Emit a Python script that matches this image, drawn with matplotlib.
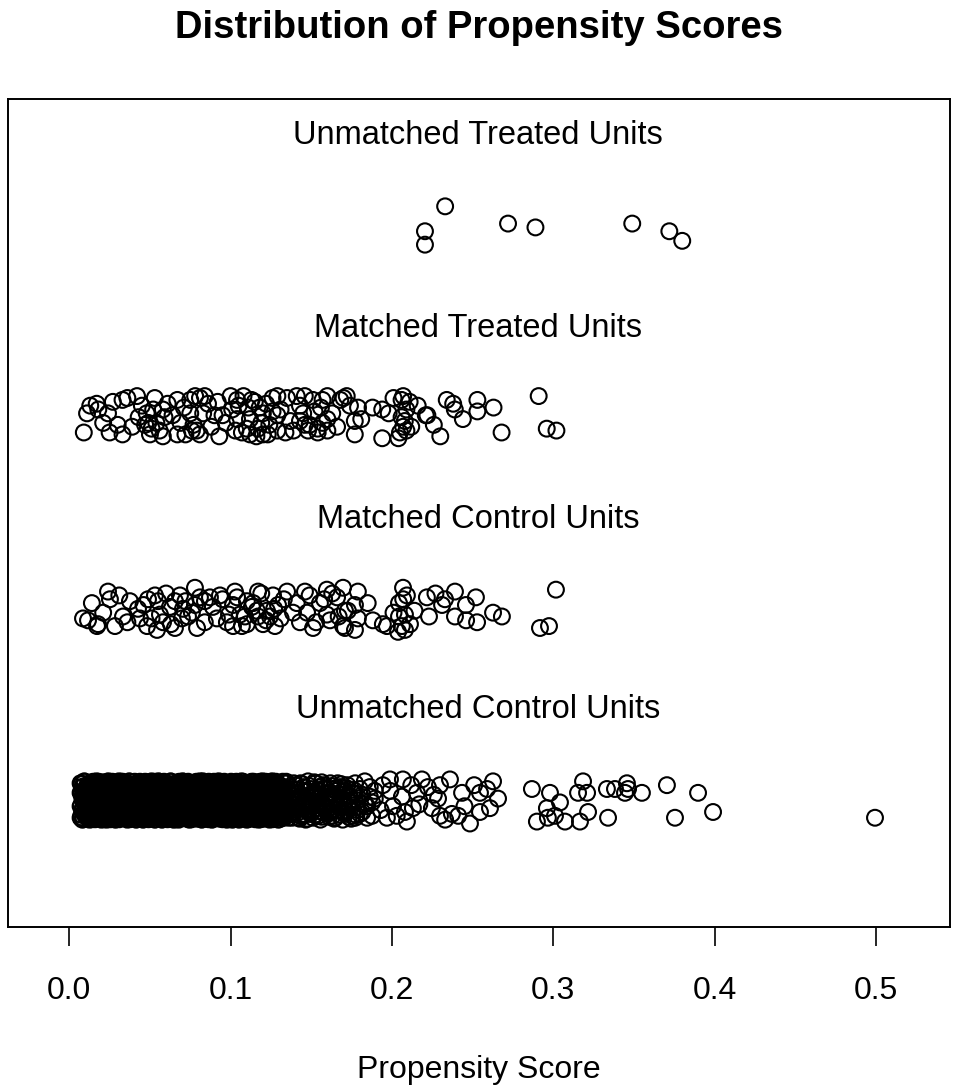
import matplotlib
matplotlib.use("Agg")
import matplotlib.pyplot as plt

plt.rcParams['font.family'] = ['Liberation Sans', 'DejaVu Sans']

# ---------------- data ----------------
title = "Distribution of Propensity Scores"
xlabel = "Propensity Score"
group_labels = ["Unmatched Treated Units", "Matched Treated Units",
                "Matched Control Units", "Unmatched Control Units"]
group_label_y = [4.47, 3.465, 2.465, 1.475]
xtick_vals = [0.0, 0.1, 0.2, 0.3, 0.4, 0.5]
xtick_labels = ["0.0", "0.1", "0.2", "0.3", "0.4", "0.5"]

# Unmatched treated units
ut_x = [0.233, 0.2205, 0.2205, 0.272, 0.289, 0.349, 0.372, 0.380]
ut_y = [4.10, 3.97, 3.90, 4.01, 3.99, 4.01, 3.97, 3.92]

# Matched treated units
mt_x = [0.009, 0.011, 0.017, 0.018, 0.024, 0.025, 0.030, 0.033, 0.033, 0.036,
        0.042, 0.043, 0.048, 0.047, 0.050, 0.052, 0.054, 0.058, 0.059, 0.058,
        0.064, 0.067, 0.067, 0.072, 0.075, 0.075, 0.076, 0.051, 0.049,
        0.078, 0.081, 0.084, 0.086, 0.079, 0.081, 0.077, 0.093, 0.090, 0.100,
        0.104, 0.108, 0.105, 0.111, 0.115, 0.118, 0.120, 0.112, 0.104, 0.103,
        0.110, 0.117, 0.120, 0.123, 0.126, 0.129, 0.126, 0.129, 0.124, 0.129,
        0.134, 0.137, 0.141, 0.143, 0.146, 0.143, 0.146, 0.149, 0.148, 0.152,
        0.154, 0.095, 0.116, 0.112,
        0.157, 0.160, 0.157, 0.160, 0.154, 0.160,
        0.291, 0.296, 0.302, 0.268, 0.263, 0.253, 0.253, 0.244, 0.239, 0.238,
        0.234, 0.230, 0.222, 0.221, 0.211, 0.207, 0.206, 0.209, 0.206, 0.207,
        0.205, 0.209, 0.204, 0.212, 0.194, 0.194, 0.188, 0.177, 0.177, 0.179,
        0.174, 0.172, 0.170,
        0.013, 0.021, 0.027, 0.039, 0.045, 0.053, 0.056, 0.061, 0.069, 0.071,
        0.083, 0.088, 0.092, 0.097, 0.101, 0.107, 0.113, 0.119, 0.122, 0.131,
        0.135, 0.139, 0.145, 0.151, 0.156, 0.163, 0.166, 0.168, 0.181, 0.198,
        0.201, 0.208, 0.216, 0.226]
mt_y = [2.92, 3.02, 3.07, 3.04, 3.02, 2.92, 2.96, 2.91, 3.09, 3.10,
        3.11, 3.00, 3.02, 2.96, 2.91, 3.04, 2.97, 3.04, 3.00, 2.90,
        3.01, 3.09, 2.91, 2.91, 3.09, 3.02, 2.93, 2.94, 2.97,
        3.11, 3.10, 3.11, 3.07, 2.93, 2.91, 2.96, 2.90, 3.01, 3.11,
        3.09, 3.11, 3.06, 3.05, 3.08, 3.05, 3.02, 2.99, 2.99, 2.93,
        2.94, 2.94, 2.91, 2.91, 3.10, 3.11, 3.03, 3.01, 2.96, 2.93,
        2.92, 2.98, 3.11, 3.06, 3.11, 2.98, 2.96, 2.96, 2.93, 3.03,
        2.94, 3.01, 2.90, 2.91,
        3.09, 3.11, 2.97, 2.93, 2.92, 2.99,
        3.11, 2.94, 2.93, 2.92, 3.05, 3.09, 3.03, 2.99, 3.04, 3.07,
        3.09, 2.90, 3.01, 3.01, 3.08, 3.11, 3.09, 3.04, 3.00, 2.95,
        2.92, 2.93, 2.89, 2.95, 2.89, 3.04, 3.05, 2.98, 2.91, 3.05,
        3.06, 3.11, 3.10,
        3.06, 2.97, 3.08, 2.95, 3.06, 3.10, 2.93, 3.07, 2.97, 3.05,
        3.02, 2.95, 3.08, 2.97, 3.04, 2.92, 3.09, 2.97, 3.07, 3.04,
        3.10, 2.93, 3.02, 3.09, 3.05, 3.02, 2.95, 3.09, 2.99, 3.02,
        3.10, 2.98, 3.06, 2.96]

# Matched control units
mc_x = [0.0085, 0.0116, 0.0178, 0.0172, 0.024, 0.0252, 0.0283, 0.0333, 0.0376, 0.0426,
        0.0438, 0.0482, 0.0488, 0.0531, 0.055, 0.0562, 0.0581, 0.0544, 0.0655, 0.0624,
        0.0655, 0.0686, 0.0705, 0.0736, 0.0779, 0.0779, 0.081, 0.0841, 0.0792, 0.0872,
        0.0934, 0.0915, 0.0977, 0.1027, 0.1015, 0.1058, 0.1089, 0.1101, 0.1132, 0.117,
        0.117, 0.1201, 0.1225, 0.1263, 0.1294, 0.1275, 0.135, 0.1387, 0.143, 0.1461,
        0.1511, 0.1474, 0.1554, 0.1597, 0.1597, 0.1616, 0.166, 0.1697, 0.1709, 0.1709,
        0.1101, 0.1163, 0.1244, 0.0698, 0.1015,
        0.3017, 0.2918, 0.2974, 0.2627, 0.2682, 0.2528, 0.2521, 0.2459, 0.2391, 0.2391,
        0.2329, 0.2311, 0.223, 0.2217, 0.2093, 0.2069, 0.2044, 0.2081, 0.2062, 0.2038,
        0.2112, 0.2081, 0.2044, 0.1944, 0.1882, 0.1969, 0.1789, 0.1789, 0.1771, 0.1727,
        0.1771, 0.1697,
        0.014, 0.021, 0.031, 0.036, 0.046, 0.051, 0.060, 0.063, 0.072, 0.076,
        0.084, 0.089, 0.095, 0.099, 0.104, 0.107, 0.114, 0.119, 0.122, 0.127,
        0.131, 0.133, 0.141, 0.149, 0.153, 0.158, 0.163, 0.167, 0.185, 0.201,
        0.207, 0.214, 0.227, 0.246]
mc_y = [1.95, 1.94, 1.92, 1.91, 2.09, 2.05, 1.91, 1.96, 2.04, 2.00,
        1.95, 1.91, 2.05, 2.07, 2.04, 1.97, 1.93, 1.89, 1.90, 2.01,
        2.04, 2.07, 2.00, 1.96, 2.11, 2.02, 2.06, 2.04, 1.90, 2.06,
        2.07, 1.95, 1.93, 2.09, 2.02, 1.97, 1.96, 1.92, 2.01, 2.09,
        1.96, 1.92, 1.99, 2.07, 2.02, 1.91, 2.09, 1.98, 1.93, 2.09,
        1.90, 1.98, 2.03, 2.10, 1.97, 1.94, 2.06, 2.11, 1.99, 1.90,
        2.04, 1.99, 1.96, 1.95, 1.91,
        2.10, 1.90, 1.91, 1.98, 1.96, 1.93, 2.06, 2.02, 1.96, 2.09,
        2.05, 2.02, 1.96, 2.06, 2.07, 2.11, 2.03, 1.97, 1.91, 1.88,
        1.92, 1.89, 1.96, 1.92, 1.94, 1.91, 2.09, 1.95, 2.02, 1.99,
        1.89, 1.91,
        2.03, 1.98, 2.07, 1.93, 2.02, 1.95, 2.08, 1.92, 2.04, 1.98,
        1.93, 2.01, 2.05, 1.97, 2.06, 1.91, 2.03, 2.08, 1.94, 2.00,
        1.95, 2.05, 2.03, 2.07, 1.93, 2.05, 2.08, 1.96, 2.03, 1.98,
        2.05, 1.99, 2.08, 1.94]

# Unmatched control units: dense low-score mass (columns of jittered points)
uc_cols_x = [0.0070, 0.0081, 0.0093, 0.0102, 0.0114, 0.0125, 0.0133, 0.0146, 0.0157, 0.0168,
             0.0176, 0.0189, 0.0198, 0.0211, 0.0220, 0.0232, 0.0243, 0.0251, 0.0264, 0.0275,
             0.0286, 0.0294, 0.0307, 0.0318, 0.0326, 0.0339, 0.0350, 0.0359, 0.0371, 0.0382,
             0.0390, 0.0403, 0.0414, 0.0425, 0.0433, 0.0446, 0.0457, 0.0465, 0.0478, 0.0489,
             0.0497, 0.0510, 0.0521, 0.0530, 0.0542, 0.0553, 0.0561, 0.0574, 0.0585, 0.0596,
             0.0604, 0.0617, 0.0628, 0.0636, 0.0649, 0.0660, 0.0671, 0.0679, 0.0692, 0.0703,
             0.0711, 0.0724, 0.0735, 0.0746, 0.0754, 0.0767, 0.0778, 0.0786, 0.0799, 0.0810,
             0.0821, 0.0829, 0.0842, 0.0853, 0.0861, 0.0874, 0.0885, 0.0896, 0.0904, 0.0917,
             0.0928, 0.0936, 0.0949, 0.0960, 0.0971, 0.0979, 0.0992, 0.1003, 0.1011, 0.1024,
             0.1035, 0.1046, 0.1054, 0.1067, 0.1078, 0.1086, 0.1099, 0.1110, 0.1121, 0.1132,
             0.1143, 0.1155, 0.1166, 0.1174, 0.1187, 0.1198, 0.1209, 0.1217, 0.1230, 0.1241,
             0.1252, 0.1260, 0.1273, 0.1284, 0.1295, 0.1303, 0.1316, 0.1327, 0.1338, 0.1346,
             0.1359, 0.1370, 0.1381, 0.1392,
             0.1405, 0.1421, 0.1434, 0.1452, 0.1466, 0.1480, 0.1497, 0.1511, 0.1528, 0.1542,
             0.1557, 0.1573, 0.1588, 0.1602, 0.1619, 0.1633, 0.1650, 0.1664, 0.1679, 0.1695,
             0.1710, 0.1724, 0.1741, 0.1755, 0.1772, 0.1786, 0.1801, 0.1817, 0.1832, 0.1846,
             0.1863, 0.1877, 0.1894]
uc_cols_y = [
    (0.91, 1.04, 0.97, 1.09), (0.95, 1.07, 0.90, 1.01), (0.99, 0.93, 1.10, 1.03), (1.06, 0.92, 0.98, 1.02),
    (0.94, 1.08, 1.00, 0.96), (1.05, 0.90, 0.99, 1.09), (0.92, 1.02, 1.07, 0.97), (1.00, 0.95, 1.04, 0.91),
    (1.08, 0.98, 0.93, 1.03), (0.96, 1.10, 1.01, 0.94), (1.03, 0.91, 0.97, 1.07), (0.93, 1.05, 1.09, 0.99),
    (1.01, 0.94, 0.90, 1.06), (0.98, 1.09, 1.02, 0.92), (1.07, 0.96, 0.93, 1.00), (0.90, 1.03, 1.08, 0.95),
    (1.04, 0.99, 0.92, 1.10), (0.97, 1.06, 1.01, 0.91), (1.09, 0.93, 0.96, 1.02), (0.92, 1.00, 1.05, 0.98),
    (1.02, 0.90, 1.08, 0.95), (0.96, 1.04, 0.99, 1.07), (1.10, 0.94, 1.01, 0.91), (0.93, 0.98, 1.06, 1.03),
    (1.05, 1.09, 0.92, 0.97), (0.99, 0.91, 1.03, 1.08), (0.94, 1.06, 0.96, 1.00), (1.07, 1.02, 0.90, 0.95),
    (0.91, 0.97, 1.04, 1.10), (1.03, 0.93, 1.08, 0.99), (0.98, 1.05, 0.92, 1.01), (1.08, 0.95, 0.97, 1.04),
    (0.90, 1.01, 1.06, 0.94), (1.04, 1.09, 0.99, 0.92), (0.95, 0.92, 1.02, 1.07), (1.01, 1.06, 0.94, 0.98),
    (0.97, 0.90, 1.09, 1.03), (1.06, 1.00, 0.93, 0.96), (0.92, 1.08, 1.01, 1.05), (1.09, 0.96, 0.91, 1.00),
    (0.94, 1.03, 1.07, 0.99), (1.02, 0.91, 0.96, 1.10), (0.99, 1.07, 1.04, 0.93), (1.05, 0.94, 0.90, 1.01),
    (0.93, 1.00, 1.08, 0.97), (1.10, 1.04, 0.95, 0.92), (0.96, 0.98, 1.02, 1.06), (1.03, 0.90, 0.94, 1.09),
    (0.91, 1.05, 1.00, 0.97), (1.07, 0.93, 1.03, 0.99), (0.98, 1.08, 0.91, 1.02), (1.00, 0.96, 1.06, 0.93),
    (0.95, 1.02, 0.98, 1.10), (1.08, 0.92, 1.04, 0.96), (0.90, 0.99, 1.01, 1.07), (1.04, 1.07, 0.93, 0.95),
    (0.97, 0.91, 1.09, 1.02), (1.06, 1.03, 0.97, 0.90), (0.92, 0.95, 1.05, 1.00), (1.01, 1.10, 0.94, 0.98),
    (0.99, 0.93, 1.02, 1.06), (1.09, 1.00, 0.96, 0.91), (0.94, 1.06, 1.08, 1.03), (1.03, 0.97, 0.90, 0.99),
    (0.96, 1.04, 1.01, 0.92), (1.05, 0.91, 0.95, 1.08), (0.93, 1.02, 1.07, 0.97), (1.07, 0.98, 0.92, 1.04),
    (0.91, 1.09, 1.00, 0.95), (1.02, 0.94, 1.05, 1.10), (0.98, 1.01, 0.93, 0.90), (1.10, 0.96, 1.03, 0.99),
    (0.95, 1.07, 0.97, 1.02), (1.00, 0.92, 1.09, 0.94), (0.97, 1.05, 0.91, 1.06), (1.04, 0.99, 1.02, 0.93),
    (0.90, 1.03, 0.96, 1.08), (1.06, 0.95, 1.00, 0.92), (0.94, 1.08, 1.04, 0.98), (1.01, 0.91, 0.97, 1.07),
    (0.99, 1.06, 1.10, 0.95), (1.08, 0.93, 0.94, 1.01), (0.92, 1.00, 1.03, 1.05), (1.03, 1.09, 0.98, 0.91),
    (0.96, 0.94, 1.07, 1.00), (1.05, 1.02, 0.90, 0.97), (0.93, 0.97, 1.05, 1.09), (1.09, 1.04, 0.99, 0.94),
    (0.98, 0.90, 1.02, 1.06), (1.02, 1.07, 0.95, 0.92), (0.91, 0.99, 1.08, 1.03), (1.07, 0.95, 0.93, 1.00),
    (0.95, 1.03, 1.06, 0.90), (1.00, 1.10, 0.97, 1.04), (0.97, 0.92, 1.01, 1.08), (1.04, 1.05, 0.91, 0.96),
    (0.90, 0.98, 1.04, 1.02), (1.06, 0.93, 1.09, 0.99), (0.94, 1.01, 0.96, 1.07), (1.03, 1.08, 1.00, 0.93),
    (0.93, 1.06, 0.99, 1.02), (1.08, 0.95, 0.91, 1.04), (0.97, 1.01, 1.09, 0.92), (1.03, 0.90, 0.96, 1.07),
    (0.95, 1.05, 1.00, 0.98), (1.10, 0.93, 1.03, 0.96), (0.91, 0.99, 1.06, 1.01), (1.04, 1.08, 0.94, 0.97),
    (0.98, 0.92, 1.02, 1.09), (1.06, 1.00, 0.90, 0.95), (0.92, 1.04, 1.07, 0.99), (1.01, 0.96, 0.93, 1.10),
    (0.96, 1.09, 1.02, 0.91), (1.07, 0.94, 0.98, 1.03), (0.90, 1.02, 1.05, 0.97), (1.05, 0.97, 0.92, 1.08),
    (0.99, 1.07, 1.01, 0.94), (1.02, 0.91, 0.96, 1.06), (0.94, 1.03, 1.09, 1.00), (1.09, 0.98, 0.93, 0.95),
    (0.97, 1.05, 1.00, 0.91), (1.03, 0.93, 1.07, 0.99), (0.91, 1.00, 0.96, 1.04), (1.06, 1.09, 0.94, 0.98),
    (0.95, 1.08, 1.01), (1.04, 0.91, 0.98), (0.92, 1.02, 1.09), (1.07, 0.96, 0.93),
    (0.99, 1.05, 0.90), (1.10, 0.94, 1.02), (0.93, 1.00, 1.06), (1.03, 0.97, 0.91),
    (0.96, 1.09, 1.04), (1.05, 0.92, 0.99), (0.90, 1.03, 1.07), (1.08, 0.98, 0.94),
    (0.97, 1.06, 1.01), (1.02, 0.93, 0.96), (0.94, 1.04, 1.09), (1.06, 0.99, 0.92),
    (0.91, 1.01, 1.05), (1.09, 0.95), (0.98, 1.07), (1.03, 0.90),
    (0.93, 1.05), (1.08, 0.97), (0.96, 1.02), (1.04, 0.92),
    (0.91, 1.09), (1.00, 0.95), (1.06, 0.93), (0.94, 1.03),
    (1.10, 0.98), (0.97, 0.91), (1.02, 1.07), (0.92, 0.99),
    (1.05, 1.01),
]

# second interleaved set of unmatched control columns
uc_cols2_x = [0.0076, 0.0088, 0.0097, 0.0109, 0.0119, 0.0130, 0.0140, 0.0151, 0.0162, 0.0172,
              0.0183, 0.0193, 0.0204, 0.0215, 0.0226, 0.0237, 0.0247, 0.0258, 0.0269, 0.0280,
              0.0290, 0.0301, 0.0312, 0.0322, 0.0333, 0.0344, 0.0355, 0.0365, 0.0376, 0.0386,
              0.0397, 0.0408, 0.0419, 0.0429, 0.0440, 0.0451, 0.0461, 0.0472, 0.0483, 0.0493,
              0.0504, 0.0515, 0.0525, 0.0536, 0.0547, 0.0557, 0.0568, 0.0579, 0.0590, 0.0600,
              0.0611, 0.0622, 0.0632, 0.0643, 0.0654, 0.0665, 0.0675, 0.0686, 0.0697, 0.0707,
              0.0718, 0.0729, 0.0740, 0.0750, 0.0761, 0.0772, 0.0782, 0.0793, 0.0804, 0.0815,
              0.0825, 0.0836, 0.0847, 0.0857, 0.0868, 0.0879, 0.0890, 0.0900, 0.0911, 0.0922,
              0.0932, 0.0943, 0.0954, 0.0965, 0.0975, 0.0986, 0.0997, 0.1007, 0.1018, 0.1029,
              0.1040, 0.1050, 0.1061, 0.1072, 0.1083, 0.1093, 0.1104, 0.1115, 0.1126, 0.1137,
              0.1149, 0.1160, 0.1170, 0.1181, 0.1192, 0.1203, 0.1214, 0.1224, 0.1235, 0.1246,
              0.1257, 0.1267, 0.1278, 0.1289, 0.1300,
              0.1412, 0.1428, 0.1443, 0.1459, 0.1473, 0.1489, 0.1504, 0.1520, 0.1535, 0.1550,
              0.1565, 0.1581, 0.1596, 0.1611, 0.1626, 0.1642, 0.1657, 0.1672, 0.1687, 0.1703,
              0.1718, 0.1733, 0.1748, 0.1764, 0.1779]
uc_cols2_y = [
    (0.925, 1.035, 1.085), (0.965, 1.005, 0.905), (1.055, 0.935, 0.985), (0.915, 1.075, 1.025), (0.995, 0.945, 1.065),
    (1.045, 0.905, 0.955), (0.935, 1.015, 1.095), (1.085, 0.975, 0.925), (0.955, 1.065, 1.005), (1.025, 0.915, 0.975),
    (0.905, 1.045, 0.945), (1.075, 0.985, 1.035), (0.945, 1.095, 0.915), (1.015, 0.925, 1.055), (0.985, 1.035, 0.965),
    (1.065, 0.955, 0.905), (0.915, 1.005, 1.085), (1.035, 1.075, 0.935), (0.975, 0.905, 1.045), (1.095, 0.965, 1.015),
    (0.935, 1.055, 0.985), (1.005, 0.915, 1.075), (0.965, 1.025, 0.925), (1.045, 0.945, 1.095), (0.925, 1.085, 1.005),
    (1.055, 0.995, 0.915), (0.985, 0.935, 1.065), (1.015, 1.045, 0.955), (0.905, 0.975, 1.035), (1.075, 1.015, 0.945),
    (0.945, 1.065, 1.025), (1.035, 0.925, 0.975), (0.915, 1.005, 1.085), (1.085, 0.955, 0.935), (0.975, 1.045, 0.905),
    (1.025, 0.905, 1.055), (0.955, 1.075, 0.995), (1.065, 0.985, 0.925), (0.935, 1.035, 1.095), (1.005, 0.945, 1.045),
    (0.905, 1.085, 0.965), (1.045, 1.015, 0.915), (0.985, 0.925, 1.075), (1.095, 1.055, 0.955), (0.925, 0.995, 1.035),
    (1.015, 0.965, 1.085), (0.965, 1.095, 0.935), (1.075, 0.915, 1.005), (0.945, 1.025, 0.985), (1.055, 1.065, 0.905),
    (0.915, 0.945, 1.045), (1.035, 1.005, 0.925), (0.995, 1.075, 0.955), (1.085, 0.935, 1.025), (0.955, 0.905, 1.065),
    (1.065, 1.035, 0.975), (0.935, 0.985, 1.095), (1.005, 1.055, 0.915), (0.925, 0.965, 1.015), (1.045, 0.915, 1.075),
    (0.975, 1.085, 0.945), (1.095, 0.995, 1.035), (0.905, 1.045, 0.985), (1.025, 0.935, 0.905), (0.965, 1.015, 1.065),
    (1.055, 0.955, 1.005), (0.945, 1.095, 0.925), (1.015, 0.905, 1.045), (0.985, 1.065, 0.965), (1.075, 0.975, 0.915),
    (0.915, 1.025, 1.085), (1.035, 0.945, 0.995), (0.955, 1.055, 0.905), (1.085, 1.005, 0.935), (0.935, 0.915, 1.055),
    (1.005, 1.075, 0.975), (0.925, 0.985, 1.035), (1.065, 0.925, 1.095), (0.975, 1.045, 0.945), (1.045, 0.965, 1.015),
    (0.905, 1.035, 0.955), (1.095, 0.915, 1.065), (0.965, 1.085, 1.005), (1.025, 0.955, 0.915), (0.945, 1.005, 1.075),
    (1.075, 1.045, 0.935), (0.985, 0.905, 1.025), (1.055, 1.095, 0.965), (0.915, 0.975, 1.045), (1.035, 1.065, 0.925),
    (0.955, 0.935, 1.085), (1.015, 1.025, 0.905), (0.935, 1.075, 0.995), (1.085, 0.945, 1.055), (0.995, 1.015, 0.915),
    (1.045, 0.905, 0.985), (0.925, 1.055, 1.035), (1.065, 0.975, 0.945), (0.965, 1.095, 1.075), (1.005, 0.925, 0.955),
    (0.905, 1.005, 1.065), (1.075, 1.035, 0.925), (0.945, 0.955, 1.095), (1.025, 1.085, 0.975), (0.975, 0.915, 1.035),
    (1.095, 0.985, 0.905), (0.935, 1.045, 1.005), (1.055, 0.935, 1.065), (0.915, 1.075, 0.955), (1.035, 0.965, 1.025),
    (0.985, 1.095, 0.935), (1.065, 0.905, 1.045), (0.955, 1.025, 1.085), (1.005, 0.945, 0.915), (0.925, 1.065, 0.995),
    (0.935, 1.055), (1.015, 0.905), (0.965, 1.085), (1.045, 0.925), (0.905, 1.005),
    (1.075, 0.955), (0.985, 1.035), (0.925, 1.095), (1.055, 0.975), (0.945, 1.025),
    (1.095, 0.915), (0.975, 1.065), (1.035, 0.945), (0.915, 0.995), (1.005, 1.075),
    (0.955, 0.905), (1.065, 1.015), (0.925, 0.965), (1.085, 1.045), (0.995, 0.935),
    (0.945, 1.065), (1.025, 0.915), (0.905, 0.985), (1.055, 1.035), (0.965, 0.925),
]

# third interleaved set of unmatched control columns
uc_cols3_x = [0.0073, 0.0084, 0.0095, 0.0106, 0.0117, 0.0127, 0.0138, 0.0149, 0.0160, 0.0171,
              0.0181, 0.0192, 0.0203, 0.0214, 0.0224, 0.0235, 0.0246, 0.0256, 0.0267, 0.0278,
              0.0288, 0.0299, 0.0310, 0.0321, 0.0331, 0.0342, 0.0353, 0.0363, 0.0374, 0.0385,
              0.0395, 0.0406, 0.0417, 0.0427, 0.0438, 0.0449, 0.0459, 0.0470, 0.0481, 0.0491,
              0.0502, 0.0513, 0.0523, 0.0534, 0.0545, 0.0555, 0.0566, 0.0577, 0.0587, 0.0598,
              0.0609, 0.0619, 0.0630, 0.0641, 0.0651, 0.0662, 0.0673, 0.0683, 0.0694, 0.0705,
              0.0715, 0.0726, 0.0737, 0.0747, 0.0758, 0.0769, 0.0779, 0.0790, 0.0801, 0.0811,
              0.0822, 0.0833, 0.0843, 0.0854, 0.0865, 0.0875, 0.0886, 0.0897, 0.0907, 0.0918,
              0.0929, 0.0939, 0.0950, 0.0961, 0.0971, 0.0982, 0.0993, 0.1003, 0.1014, 0.1025,
              0.1035, 0.1046, 0.1057, 0.1067, 0.1078, 0.1089, 0.1099, 0.1110, 0.1121, 0.1131,
              0.1142, 0.1153, 0.1163, 0.1174, 0.1185, 0.1195, 0.1206, 0.1217, 0.1227, 0.1238,
              0.1249, 0.1259, 0.1270, 0.1281, 0.1291, 0.1302, 0.1313, 0.1323, 0.1334, 0.1345]
uc_cols3_y = [
    (0.912, 0.972, 1.042, 1.088), (0.958, 1.028, 0.902, 1.072), (1.012, 0.942, 1.098, 0.988), (0.928, 1.058, 0.972, 1.042), (1.072, 0.912, 1.028, 0.958), (0.988, 1.088, 0.942, 1.012),
    (0.942, 1.012, 1.072, 0.902), (1.058, 0.958, 0.928, 1.098), (0.902, 1.042, 0.988, 1.028), (1.028, 0.928, 1.058, 0.972), (0.972, 1.098, 0.912, 1.042), (1.088, 0.988, 1.012, 0.942),
    (0.928, 1.072, 0.958, 1.012), (1.042, 0.902, 1.088, 0.972), (0.958, 1.028, 0.942, 1.058), (1.098, 0.912, 0.988, 1.028), (0.912, 1.058, 1.042, 0.928), (1.012, 0.972, 0.902, 1.088),
    (0.988, 1.042, 1.098, 0.912), (1.072, 0.928, 0.958, 1.012), (0.942, 1.088, 1.028, 0.902), (1.028, 0.958, 0.912, 1.072), (0.902, 1.012, 1.058, 0.972), (1.058, 0.942, 0.988, 1.098),
    (0.972, 1.098, 0.928, 1.042), (1.012, 0.912, 1.072, 0.958), (0.928, 1.028, 0.988, 1.088), (1.088, 0.972, 0.942, 1.012), (0.958, 1.058, 1.098, 0.902), (1.042, 0.988, 0.912, 1.028),
    (0.912, 1.042, 1.012, 0.958), (1.098, 0.942, 1.058, 0.928), (0.988, 0.902, 1.028, 1.072), (1.028, 1.088, 0.972, 0.912), (0.942, 0.958, 1.042, 1.098), (1.072, 1.012, 0.928, 0.988),
    (0.902, 1.072, 0.988, 1.028), (1.058, 0.912, 1.098, 0.942), (0.972, 1.042, 0.958, 1.088), (1.012, 0.928, 1.072, 0.902), (0.928, 1.088, 1.012, 0.972), (1.088, 0.958, 0.942, 1.058),
    (0.958, 1.012, 1.088, 0.928), (1.042, 0.972, 0.902, 1.098), (0.912, 1.058, 1.028, 0.988), (1.098, 0.942, 0.972, 1.042), (0.988, 1.028, 0.912, 1.072), (1.028, 0.902, 1.058, 0.958),
    (0.942, 1.098, 0.972, 1.012), (1.072, 0.928, 1.042, 0.912), (0.902, 0.988, 1.088, 1.058), (1.012, 1.072, 0.928, 0.942), (0.972, 0.912, 1.028, 1.098), (1.058, 1.042, 0.958, 0.902),
    (0.928, 1.058, 1.012, 0.972), (1.088, 0.902, 0.942, 1.028), (0.958, 1.072, 0.988, 1.042), (1.042, 0.958, 1.098, 0.912), (0.912, 1.028, 1.072, 0.988), (1.098, 0.972, 0.928, 1.058),
    (0.988, 1.088, 0.912, 1.042), (1.028, 0.942, 1.072, 0.958), (0.902, 1.012, 0.972, 1.098), (1.072, 0.928, 1.028, 0.988), (0.958, 1.042, 0.902, 1.088), (1.012, 0.972, 1.058, 0.928),
    (0.942, 1.058, 0.988, 1.028), (1.098, 0.912, 0.958, 1.072), (0.928, 1.028, 1.088, 0.942), (1.042, 0.988, 0.912, 1.012), (0.972, 1.098, 1.042, 0.902), (1.058, 0.958, 0.928, 1.088),
    (0.912, 1.012, 1.072, 0.958), (1.088, 0.972, 0.942, 1.028), (0.958, 0.902, 1.058, 1.098), (1.028, 1.042, 0.988, 0.912), (0.902, 1.072, 0.928, 1.012), (1.072, 0.928, 1.098, 0.972),
    (0.972, 1.028, 0.912, 1.088), (1.012, 1.098, 0.958, 0.942), (0.928, 0.988, 1.042, 1.058), (1.058, 0.912, 1.012, 0.972), (0.988, 1.042, 1.088, 0.902), (1.042, 0.958, 0.972, 1.098),
    (0.902, 1.088, 1.028, 0.942), (1.072, 1.012, 0.912, 0.988), (0.942, 0.958, 1.072, 1.042), (1.098, 0.928, 0.988, 1.058), (0.958, 1.058, 0.902, 1.012), (1.028, 0.972, 1.042, 0.928),
    (0.988, 0.912, 1.098, 1.042), (1.042, 1.072, 0.958, 0.902), (0.912, 1.028, 0.942, 1.088), (1.058, 0.988, 1.012, 0.928), (0.928, 1.098, 1.058, 0.972), (1.088, 0.942, 0.972, 1.012),
    (0.958, 1.042, 0.928, 1.072), (1.012, 0.902, 1.088, 0.988), (0.972, 1.058, 1.012, 0.912), (1.098, 0.958, 0.942, 1.028), (0.942, 1.012, 1.072, 1.098), (1.028, 0.928, 0.902, 1.058),
    (0.912, 1.072, 1.042, 0.988), (1.058, 0.942, 0.972, 1.088), (0.902, 1.028, 1.098, 0.958), (1.072, 0.988, 0.928, 1.012), (0.988, 0.912, 1.058, 1.042), (1.042, 1.098, 0.958, 0.928),
    (0.928, 0.972, 1.088, 1.028), (1.088, 1.042, 0.912, 0.958), (0.958, 1.098, 1.012, 0.942), (1.012, 0.928, 1.072, 0.902), (0.972, 1.058, 0.988, 1.088), (1.098, 0.912, 1.028, 0.972),
    (0.942, 1.088, 0.958, 1.012), (1.028, 0.902, 1.042, 1.072), (0.912, 1.012, 0.928, 1.058), (1.072, 0.958, 1.098, 0.988), (0.988, 1.028, 0.912, 1.042), (1.058, 0.972, 0.942, 1.098),
]

# Unmatched control units: sparse higher scores
uc_x = [0.2627, 0.2658, 0.2608, 0.2546, 0.259, 0.2484, 0.2435, 0.2372, 0.236, 0.2298,
        0.2286, 0.2248, 0.2186, 0.2155, 0.2093, 0.2081, 0.2062, 0.1969, 0.1944, 0.2068,
        0.2223, 0.2411, 0.2546, 0.2298, 0.213, 0.2007, 0.1988,
        0.193, 0.199, 0.203, 0.212, 0.217, 0.226, 0.233, 0.245, 0.251,
        0.2868, 0.298, 0.2961, 0.3042, 0.3011, 0.2899, 0.2967, 0.3073, 0.3166, 0.3216,
        0.3185, 0.3154, 0.321, 0.334, 0.3333, 0.3383, 0.3457, 0.3464, 0.3445, 0.355,
        0.3705, 0.3755, 0.3898, 0.3991, 0.4995]
uc_y = [1.10, 1.01, 0.96, 1.04, 1.06, 0.88, 1.04, 0.93, 1.11, 1.08,
        1.01, 0.96, 1.11, 1.04, 0.89, 0.94, 1.02, 0.91, 1.08, 1.11,
        1.07, 0.92, 0.94, 0.92, 0.96, 0.97, 1.11,
        0.95, 1.05, 0.92, 1.08, 0.98, 1.03, 0.90, 0.97, 1.08,
        1.06, 1.04, 0.96, 0.99, 0.92, 0.89, 0.91, 0.89, 0.89, 0.94,
        1.10, 1.04, 1.04, 0.91, 1.06, 1.06, 1.09, 1.06, 1.04, 1.04,
        1.08, 0.91, 1.04, 0.94, 0.91]

# ---------------- figure ----------------
W, H = 957, 1089
fig = plt.figure(figsize=(W / 100, H / 100), dpi=100)
ax_l, ax_r, ax_t, ax_b = 8, 950, 99, 927
ax = fig.add_axes([ax_l / W, (H - ax_b) / H, (ax_r - ax_l) / W, (ax_b - ax_t) / H])

uc_all_x = []
uc_all_y = []
for cols_x, cols_y in [(uc_cols_x, uc_cols_y), (uc_cols2_x, uc_cols2_y), (uc_cols3_x, uc_cols3_y)]:
    for cx, ys in zip(cols_x, cols_y):
        for yy in ys:
            uc_all_x.append(cx)
            uc_all_y.append(yy)
uc_all_x += uc_x
uc_all_y += uc_y

style = dict(s=130, facecolors='none', edgecolors='black', linewidths=1.5)
for xs, ys in [(ut_x, ut_y), (mt_x, mt_y), (mc_x, mc_y), (uc_all_x, uc_all_y)]:
    ax.scatter(xs, ys, **style)

all_x = ut_x + mt_x + mc_x + uc_all_x
xmid = (min(all_x) + max(all_x)) / 2
for lab, yy in zip(group_labels, group_label_y):
    ax.text(xmid, yy, lab, ha='center', va='center', fontsize=23.5)

ax.set_xlim(-0.038, 0.546)
ax.set_ylim(0.34, 4.66)
ax.set_yticks([])
ax.set_xticks(xtick_vals)
ax.set_xticklabels(xtick_labels, fontsize=23)
ax.tick_params(axis='x', direction='out', length=14, width=1.2, pad=21)
for sp in ax.spines.values():
    sp.set_linewidth(1.4)

ax.set_xlabel(xlabel, fontsize=23)
ax.xaxis.label.set_va('center')
ax.xaxis.set_label_coords(0.5, -(1070 - ax_b) / (ax_b - ax_t))

fig.text(((ax_l + ax_r) / 2) / W, 1 - 28 / H, title, ha='center', va='center',
         fontsize=27.5, fontweight='bold')

fig.savefig("out.png", dpi=100)
